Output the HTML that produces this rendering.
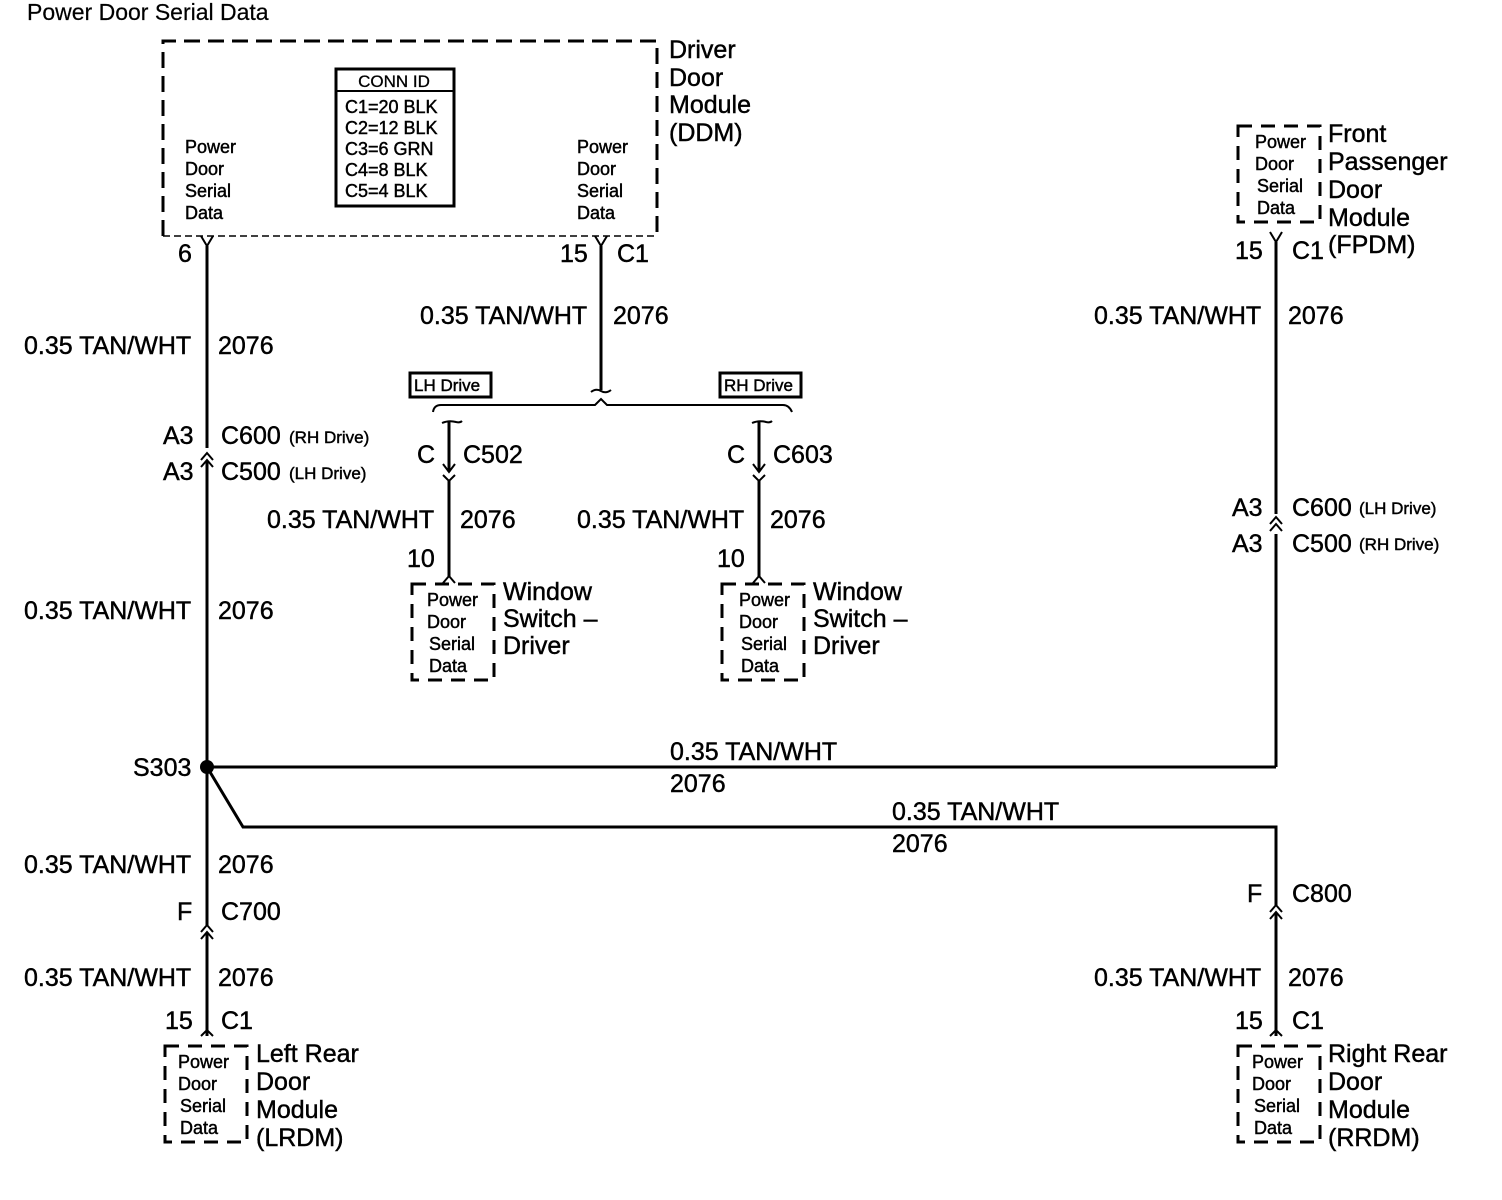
<!DOCTYPE html>
<html><head><meta charset="utf-8"><style>
html,body{margin:0;padding:0;background:#fff}
svg{display:block}
text{font-family:"Liberation Sans",Arial,sans-serif;fill:#000;stroke:#000;stroke-width:0.45}
.l{font-size:25px}
.s{font-size:18px;stroke-width:0.3}
.xs{font-size:17px;stroke-width:0.3}
</style></head><body>
<svg width="1502" height="1200" viewBox="0 0 1502 1200" xmlns="http://www.w3.org/2000/svg">
<g fill="none" stroke="#000" stroke-width="3">
<path d="M163 236 V41 H657 V236" stroke-dasharray="16 8"/>
<path d="M163 236 H657" stroke-width="1.5" stroke-dasharray="7 4"/>
<rect x="336" y="69" width="118" height="137"/>
<line x1="336" y1="91" x2="454" y2="91" stroke-width="2"/>
<line x1="207" y1="246" x2="207" y2="448"/>
<path d="M201 236 L207 246 L213 236" stroke-width="2"/>
<path d="M201 460 L207 453 L213 460 M201 467 L207 460 L213 467" stroke-width="2"/>
<line x1="207" y1="461" x2="207" y2="925"/>
<path d="M201 932 L207 925 L213 932 M201 939 L207 932 L213 939" stroke-width="2"/>
<line x1="207" y1="933" x2="207" y2="1036"/>
<path d="M201 1036 L207 1030 L213 1036" stroke-width="2"/>
<line x1="207" y1="767" x2="1276" y2="767"/>
<line x1="1276" y1="767" x2="1276" y2="534"/>
<path d="M1270 524 L1276 517 L1282 524 M1270 531 L1276 524 L1282 531" stroke-width="2"/>
<line x1="1276" y1="514" x2="1276" y2="242"/>
<path d="M1270 232 L1276 242 L1282 232" stroke-width="2"/>
<path d="M207 767 L243 827 H1276 V905"/>
<path d="M1270 912 L1276 905 L1282 912 M1270 919 L1276 912 L1282 919" stroke-width="2"/>
<line x1="1276" y1="913" x2="1276" y2="1036"/>
<path d="M1270 1036 L1276 1030 L1282 1036" stroke-width="2"/>
<path d="M595 236 L601 246 L607 236" stroke-width="2"/>
<line x1="601" y1="246" x2="601" y2="390"/>
<path d="M591 392 Q596 388 601 391 Q606 394 611 390" stroke-width="2"/>
<path d="M433 412 Q434 405 441 405 H595 L601 399 L607 405 H783 Q789 405 792 412" stroke-width="2"/>
<path d="M442 423 Q449 420 456 422 Q460 423 462 421" stroke-width="2"/>
<line x1="449" y1="422" x2="449" y2="472"/>
<path d="M443 464 L449 472 L455 464" stroke-width="2"/>
<path d="M443 475 L449 481 L455 475" stroke-width="2"/>
<line x1="449" y1="481" x2="449" y2="577"/>
<path d="M443 583 L449 576 L455 583" stroke-width="2"/>
<path d="M752 423 Q759 420 766 422 Q770 423 772 421" stroke-width="2"/>
<line x1="759" y1="422" x2="759" y2="472"/>
<path d="M753 464 L759 472 L765 464" stroke-width="2"/>
<path d="M753 475 L759 481 L765 475" stroke-width="2"/>
<line x1="759" y1="481" x2="759" y2="577"/>
<path d="M753 583 L759 576 L765 583" stroke-width="2"/>
<rect x="410" y="373" width="81" height="24" stroke-width="3"/>
<rect x="720" y="373" width="81" height="24" stroke-width="3"/>
<rect x="412" y="584" width="82" height="96" stroke-dasharray="14 9"/>
<rect x="722" y="584" width="82" height="96" stroke-dasharray="14 9"/>
<rect x="1238" y="126" width="82" height="96" stroke-dasharray="14 9"/>
<rect x="165" y="1046" width="82" height="96" stroke-dasharray="14 9"/>
<rect x="1238" y="1046" width="82" height="96" stroke-dasharray="14 9"/>
</g>
<circle cx="207" cy="767" r="7" fill="#000"/>

<text x="27" y="20" style="font-size:23px;stroke-width:0.2">Power Door Serial Data</text>
<text x="394" y="87" class="xs" text-anchor="middle">CONN ID</text>
<g class="s">
<text x="345" y="113">C1=20 BLK</text>
<text x="345" y="134">C2=12 BLK</text>
<text x="345" y="155">C3=6 GRN</text>
<text x="345" y="176">C4=8 BLK</text>
<text x="345" y="197">C5=4 BLK</text>
<text x="185" y="153">Power</text><text x="185" y="175">Door</text><text x="185" y="197">Serial</text><text x="185" y="219">Data</text>
<text x="577" y="153">Power</text><text x="577" y="175">Door</text><text x="577" y="197">Serial</text><text x="577" y="219">Data</text>
</g>
<g class="l">
<text x="669" y="58">Driver</text><text x="669" y="86">Door</text><text x="669" y="113">Module</text><text x="669" y="141">(DDM)</text>
<text x="178" y="262">6</text>
<text x="560" y="262">15</text><text x="617" y="262">C1</text>
<text x="420" y="324">0.35 TAN/WHT</text><text x="613" y="324">2076</text>
<text x="24" y="354">0.35 TAN/WHT</text><text x="218" y="354">2076</text>
<text x="163" y="444">A3</text><text x="221" y="444">C600</text>
<text x="163" y="480">A3</text><text x="221" y="480">C500</text>
<text x="24" y="619">0.35 TAN/WHT</text><text x="218" y="619">2076</text>
<text x="133" y="776">S303</text>
<text x="24" y="873">0.35 TAN/WHT</text><text x="218" y="873">2076</text>
<text x="177" y="920">F</text><text x="221" y="920">C700</text>
<text x="24" y="986">0.35 TAN/WHT</text><text x="218" y="986">2076</text>
<text x="165" y="1029">15</text><text x="221" y="1029">C1</text>
<text x="256" y="1062">Left Rear</text><text x="256" y="1090">Door</text><text x="256" y="1118">Module</text><text x="256" y="1146">(LRDM)</text>
<text x="417" y="463">C</text><text x="463" y="463">C502</text>
<text x="727" y="463">C</text><text x="773" y="463">C603</text>
<text x="267" y="528">0.35 TAN/WHT</text><text x="460" y="528">2076</text>
<text x="577" y="528">0.35 TAN/WHT</text><text x="770" y="528">2076</text>
<text x="407" y="567">10</text><text x="717" y="567">10</text>
<text x="503" y="600">Window</text><text x="503" y="627">Switch –</text><text x="503" y="654">Driver</text>
<text x="813" y="600">Window</text><text x="813" y="627">Switch –</text><text x="813" y="654">Driver</text>
<text x="670" y="760">0.35 TAN/WHT</text><text x="670" y="792">2076</text>
<text x="892" y="820">0.35 TAN/WHT</text><text x="892" y="852">2076</text>
<text x="1328" y="142">Front</text><text x="1328" y="170">Passenger</text><text x="1328" y="198">Door</text><text x="1328" y="226">Module</text><text x="1328" y="253">(FPDM)</text>
<text x="1235" y="259">15</text><text x="1292" y="259">C1</text>
<text x="1094" y="324">0.35 TAN/WHT</text><text x="1288" y="324">2076</text>
<text x="1232" y="516">A3</text><text x="1292" y="516">C600</text>
<text x="1232" y="552">A3</text><text x="1292" y="552">C500</text>
<text x="1247" y="902">F</text><text x="1292" y="902">C800</text>
<text x="1094" y="986">0.35 TAN/WHT</text><text x="1288" y="986">2076</text>
<text x="1235" y="1029">15</text><text x="1292" y="1029">C1</text>
<text x="1328" y="1062">Right Rear</text><text x="1328" y="1090">Door</text><text x="1328" y="1118">Module</text><text x="1328" y="1146">(RRDM)</text>
</g>
<g class="xs">
<text x="289" y="443">(RH Drive)</text><text x="289" y="479">(LH Drive)</text>
<text x="1359" y="514">(LH Drive)</text><text x="1359" y="550">(RH Drive)</text>
<text x="414" y="391" style="font-size:17px">LH Drive</text><text x="724" y="391" style="font-size:17px">RH Drive</text>
</g>
<g class="s">
<text x="427" y="606">Power</text><text x="427" y="628">Door</text><text x="429" y="650">Serial</text><text x="429" y="672">Data</text>
<text x="739" y="606">Power</text><text x="739" y="628">Door</text><text x="741" y="650">Serial</text><text x="741" y="672">Data</text>
<text x="1255" y="148">Power</text><text x="1255" y="170">Door</text><text x="1257" y="192">Serial</text><text x="1257" y="214">Data</text>
<text x="178" y="1068">Power</text><text x="178" y="1090">Door</text><text x="180" y="1112">Serial</text><text x="180" y="1134">Data</text>
<text x="1252" y="1068">Power</text><text x="1252" y="1090">Door</text><text x="1254" y="1112">Serial</text><text x="1254" y="1134">Data</text>
</g>
</svg>
</body></html>
